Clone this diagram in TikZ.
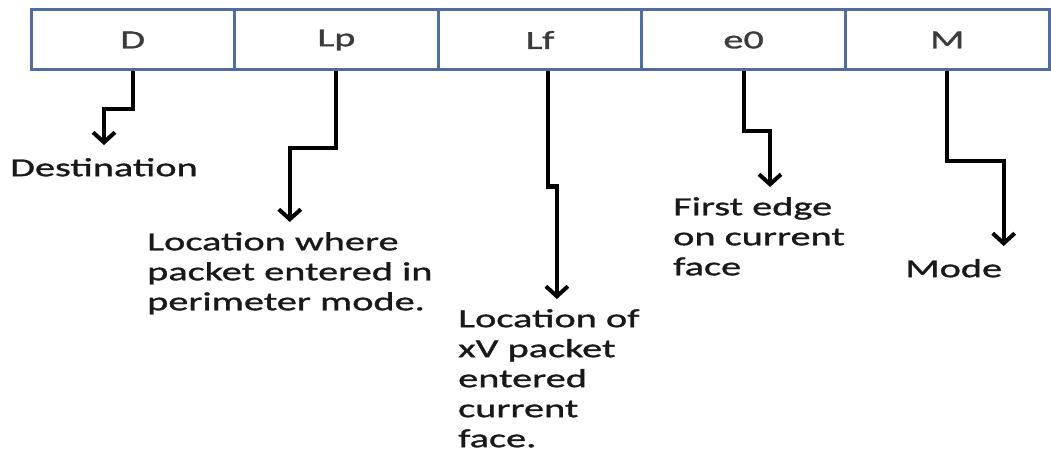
\documentclass[tikz,border=0pt]{standalone}
\usepackage{fontspec}
\setmainfont{Carlito}[FakeStretch=1.55, FakeBold=1.2]
\usetikzlibrary{arrows.meta}
\definecolor{cellblue}{RGB}{79,110,160}
\definecolor{celltext}{RGB}{60,60,60}
\definecolor{notetext}{RGB}{25,25,25}
\tikzset{
  cell/.style={draw=cellblue, line width=3pt, minimum width=203.6pt,
    minimum height=60pt, inner sep=0pt, text=celltext},
  note/.style={anchor=north west, align=left, inner sep=0pt,
    text=notetext, execute at begin node=\strut},
  pointer/.style={-{Straight Barb[length=10pt,width=22pt]},
    line width=4pt, shorten >=10pt},
}
\begin{document}
\begin{tikzpicture}[x=1pt, y=-1pt, font=\fontsize{26}{30}\selectfont]
      \useasboundingbox (0,0) rectangle (1051,457);
      \draw
        (132.8,40) node[cell] (D){D}
        (336.4,40) node[cell] (Lp){Lp}
        (540.0,40) node[cell] (Lf){Lf}
        (743.6,40) node[cell] (e0){e0}
        (947.2,40) node[cell] (M){M};
      \draw
        (10,155) node[note] (dest){Destination}
        (147,232) node[note] (lpnote){Location where\\packet entered in\\perimeter mode.}
        (458,309) node[note] (lfnote){Location of\\xV packet\\entered\\current\\face.}
        (673,197) node[note] (e0note){First edge\\on current\\face}
        (905,256) node[note] (mnote){Mode};
      \begin{scope}[pointer]
        \draw (D.south) -- ++(0,38) -| (dest.north);
        \draw (Lp.south) -- ++(0,77) -| (lpnote.north);
        \draw ([xshift=8]Lf.south) -- ++(0,115) -| ([xshift=8]lfnote.north);
        \draw (e0.south) -- ++(0,60) -| ([xshift=11]e0note.north);
        \draw (M.south) -- ++(0,90) -| ([xshift=50]mnote.north);
      \end{scope}
    \end{tikzpicture}
\end{document}
